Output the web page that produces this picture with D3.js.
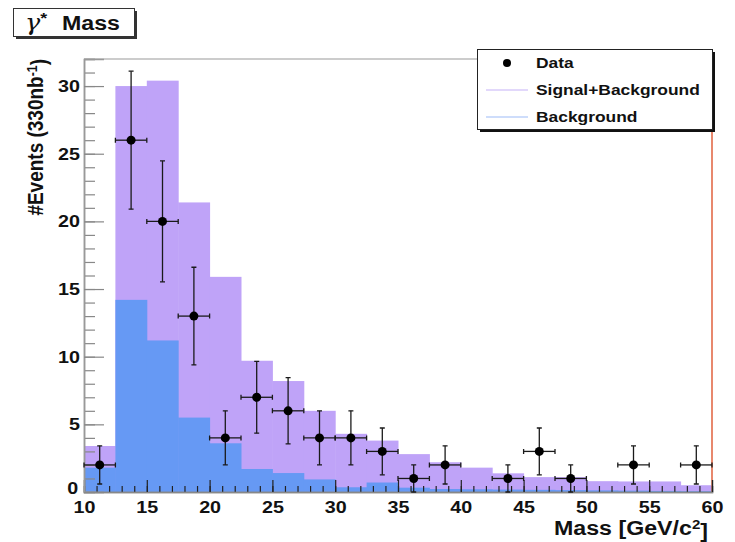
<!DOCTYPE html>
<html>
<head>
<meta charset="utf-8">
<script src="https://cdn.jsdelivr.net/npm/d3@7"></script>
<style>
  body { margin: 0; background: #fff; }
  text { font-family: "Liberation Sans", Arial, sans-serif; font-weight: bold; fill: #111; }
</style>
</head>
<body>
<div id="chart"></div>
<script>
// Data
const binCenters = [11.25, 13.75, 16.25, 18.75, 21.25, 23.75, 26.25, 28.75, 31.25, 33.75,
                    36.25, 38.75, 41.25, 43.75, 46.25, 48.75, 51.25, 53.75, 56.25, 58.75];
const sigBkg = [3.4, 30.0, 30.4, 21.4, 15.9, 9.7, 8.2, 6.0, 4.3, 3.8,
                2.8, 2.2, 1.8, 1.38, 1.1, 1.1, 0.8, 0.78, 0.78, 0.5];
const bkg = [1.8, 14.2, 11.2, 5.5, 3.6, 1.7, 1.4, 0.93, 0.35, 0.7,
             0.32, 0.22, 0.2, 0.18, 0.16, 0.14, 0.12, 0.1, 0.08, 0.06];
const counts = [2, 26, 20, 13, 4, 7, 6, 4, 4, 3, 1, 2, 0, 1, 3, 1, 0, 2, 0, 2];
const errors = [1.41, 5.1, 4.47, 3.61, 2, 2.65, 2.45, 2, 2, 1.73, 1, 1.41, 0, 1, 1.73, 1, 0, 1.41, 0, 1.41];
const binHalf = 1.25;
const xTicks = [10, 15, 20, 25, 30, 35, 40, 45, 50, 55, 60];
const yTicks = [0, 5, 10, 15, 20, 25, 30];

const width = 735, height = 542;
const frame = { left: 84, right: 712, top: 59, bottom: 492 };
const SX = 1.16; // picture text is a bit stretched horizontally

const svg = d3.select("#chart").append("svg")
    .attr("width", width)
    .attr("height", height);

const x = d3.scaleLinear().domain([10, 60]).range([frame.left, frame.right]);
const y = d3.scaleLinear().domain([0, 32]).range([frame.bottom, frame.top]);

const bins = binCenters.map((c, i) => ({
    c, sb: sigBkg[i], b: bkg[i], n: counts[i], e: errors[i]
}));

// Histograms
const gHist = svg.append("g").attr("class", "hist");
gHist.selectAll("rect.sb")
    .data(bins)
    .join("rect")
    .attr("class", "sb")
    .attr("x", d => x(d.c - binHalf))
    .attr("width", d => x(d.c + binHalf) - x(d.c - binHalf) + 0.5)
    .attr("y", d => y(d.sb))
    .attr("height", d => y(0) - y(d.sb))
    .attr("fill", "#bfa3f8");
gHist.selectAll("rect.b")
    .data(bins)
    .join("rect")
    .attr("class", "b")
    .attr("x", d => x(d.c - binHalf))
    .attr("width", d => x(d.c + binHalf) - x(d.c - binHalf) + 0.5)
    .attr("y", d => y(d.b))
    .attr("height", d => y(0) - y(d.b))
    .attr("fill", "#6699f4");

// Frame: top line gray, right side red
svg.append("line")
    .attr("x1", frame.left).attr("x2", frame.right)
    .attr("y1", frame.top).attr("y2", frame.top)
    .attr("stroke", "#999").attr("stroke-width", 1.2);
svg.append("line")
    .attr("x1", frame.right).attr("x2", frame.right)
    .attr("y1", frame.top).attr("y2", frame.bottom)
    .attr("stroke", "#e0603c").attr("stroke-width", 1.5);

// Axes (ticks point inside the frame)
const gX = svg.append("g").attr("transform", `translate(0,${frame.bottom})`);
gX.call(d3.axisBottom(x).tickValues(d3.range(10, 61, 1)).tickSize(-6).tickFormat(""));
gX.append("g").call(d3.axisBottom(x).tickValues(xTicks).tickSize(-12).tickPadding(9).tickFormat(d3.format("d")));
gX.selectAll(".domain").attr("stroke", "#888").attr("stroke-width", 1.5);
gX.selectAll(".tick line").attr("stroke", "#222").attr("stroke-width", 1.2);
gX.selectAll("text")
    .attr("font-size", 17)
    .attr("font-family", "Liberation Sans, Arial, sans-serif")
    .attr("font-weight", "bold")
    .attr("fill", "#111")
    .attr("transform", `scale(${SX},1)`);

const gY = svg.append("g").attr("transform", `translate(${frame.left},0)`);
gY.call(d3.axisLeft(y).tickValues(d3.range(0, 33, 1)).tickSize(-11).tickFormat(""));
gY.append("g").call(d3.axisLeft(y).tickValues(yTicks).tickSize(-20).tickPadding(3.5).tickFormat(d3.format("d")));
gY.selectAll(".domain").attr("stroke", "#999").attr("stroke-width", 1.5);
gY.selectAll(".tick line").attr("stroke", "#888").attr("stroke-width", 1.2);
gY.selectAll("text")
    .attr("font-size", 17)
    .attr("font-family", "Liberation Sans, Arial, sans-serif")
    .attr("font-weight", "bold")
    .attr("fill", "#111")
    .attr("transform", `scale(${SX},1)`);
// lift the "0" a touch so it does not sit on the x "10"
gY.selectAll(".tick text").filter(d => d === 0).attr("dy", "0.1em").attr("x", -5);

// Data points with error bars
const pts = bins.filter(d => d.n > 0);
const gData = svg.append("g").attr("class", "data")
    .attr("stroke", "#1a1a1a").attr("stroke-width", 1.3);
gData.selectAll("line.ey")
    .data(pts).join("line").attr("class", "ey")
    .attr("x1", d => x(d.c)).attr("x2", d => x(d.c))
    .attr("y1", d => y(d.n + d.e)).attr("y2", d => y(Math.max(0, d.n - d.e)));
gData.selectAll("line.ex")
    .data(pts).join("line").attr("class", "ex")
    .attr("x1", d => x(d.c - binHalf)).attr("x2", d => x(d.c + binHalf))
    .attr("y1", d => y(d.n)).attr("y2", d => y(d.n));
// caps
gData.selectAll("path.cap")
    .data(pts).join("path").attr("class", "cap")
    .attr("fill", "none")
    .attr("d", d => {
        const cx = x(d.c), cy = y(d.n);
        const t = y(d.n + d.e), b = y(Math.max(0, d.n - d.e));
        const l = x(d.c - binHalf), r = x(d.c + binHalf);
        return `M${cx - 2.5},${t}H${cx + 2.5}M${cx - 2.5},${b}H${cx + 2.5}` +
               `M${l},${cy - 2.5}V${cy + 2.5}M${r},${cy - 2.5}V${cy + 2.5}`;
    });
gData.selectAll("circle")
    .data(pts).join("circle")
    .attr("cx", d => x(d.c)).attr("cy", d => y(d.n))
    .attr("r", 4.5).attr("fill", "#000").attr("stroke", "none");

// Axis titles
function stretchedText(px, py, anchor, size, rotate) {
    return svg.append("text")
        .attr("transform", `translate(${px},${py}) scale(${SX},1)` + (rotate ? " rotate(-90)" : ""))
        .attr("text-anchor", anchor)
        .attr("font-size", size);
}
const yTitle = stretchedText(43, frame.top, "end", 19, true);
yTitle.append("tspan").text("#Events (330nb");
yTitle.append("tspan").attr("dy", "-0.45em").attr("font-size", "0.65em").text("-1");
yTitle.append("tspan").attr("dy", "0.45em").text(")");

const xTitle = stretchedText(708, 535, "end", 20, false);
xTitle.append("tspan").text("Mass [GeV/c");
xTitle.append("tspan").attr("dy", "-0.45em").attr("font-size", "0.65em").text("2");
xTitle.append("tspan").attr("dy", "0.45em").text("]");

// Title box
svg.append("rect").attr("x", 16).attr("y", 11).attr("width", 121).attr("height", 28).attr("fill", "#333");
svg.append("rect").attr("x", 13.5).attr("y", 8.5).attr("width", 121).attr("height", 28)
    .attr("fill", "#fff").attr("stroke", "#333").attr("stroke-width", 1);
const gamma = stretchedText(25, 30, "start", 22, false);
gamma.append("tspan").attr("font-family", "DejaVu Serif, serif").attr("font-style", "italic")
    .attr("font-weight", "normal").text("γ");
gamma.append("tspan").attr("dy", "-0.45em").attr("font-size", "0.7em").attr("font-weight", "bold").text("*");
stretchedText(62, 30, "start", 20, false).text("Mass");

// Legend
const legendItems = [
    { label: "Data", type: "marker" },
    { label: "Signal+Background", type: "line", color: "#c6b2f8" },
    { label: "Background", type: "line", color: "#9dbcf8" }
];
svg.append("rect").attr("x", 480).attr("y", 52).attr("width", 235).attr("height", 80).attr("fill", "#111");
svg.append("rect").attr("x", 477.5).attr("y", 49.5).attr("width", 235).attr("height", 80)
    .attr("fill", "#fff").attr("stroke", "#222").attr("stroke-width", 1);
const gLeg = svg.append("g").attr("class", "legend");
legendItems.forEach((item, i) => {
    const cy = 63 + i * 27;
    if (item.type === "marker") {
        gLeg.append("circle").attr("cx", 507).attr("cy", cy).attr("r", 4).attr("fill", "#000");
    } else {
        gLeg.append("line").attr("x1", 486).attr("x2", 528)
            .attr("y1", cy).attr("y2", cy)
            .attr("stroke", item.color).attr("stroke-width", 1.2);
    }
    gLeg.append("text")
        .attr("transform", `translate(536,${cy + 5}) scale(${SX},1)`)
        .attr("font-size", 15)
        .text(item.label);
});
</script>
</body>
</html>
